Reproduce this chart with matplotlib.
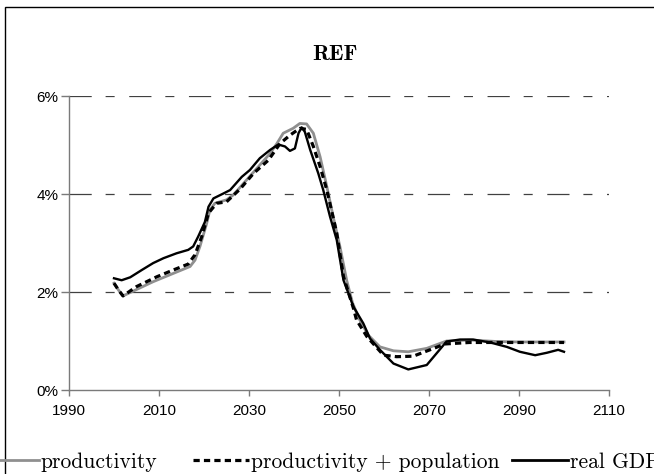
import matplotlib
matplotlib.use("Agg")
import matplotlib.pyplot as plt
from matplotlib.patches import Rectangle
from matplotlib.lines import Line2D
from matplotlib.ticker import FuncFormatter

# ── Dados (em %) ─────────────────────────────────────────────────────────────
prod_years = [2000, 2001, 2002, 2005, 2008.7, 2012.4, 2016.9, 2018, 2019.1, 2020.6,
              2021.3, 2022.4, 2025, 2026.5, 2029.5, 2032.4, 2034.7, 2036.2, 2037.6,
              2039.8, 2041.3, 2042.8, 2044.3, 2045.8, 2047.3, 2048.7, 2050.2, 2051.7,
              2053, 2054.5, 2056.5, 2059.1, 2062.1, 2065.4, 2069.5, 2073.9, 2079.1,
              2085, 2090, 2095, 2100]
prod_vals = [2.18, 2.04, 1.92, 2.05, 2.21, 2.35, 2.52, 2.65, 2.93, 3.40,
             3.67, 3.81, 3.88, 3.98, 4.29, 4.59, 4.83, 5.03, 5.24,
             5.34, 5.44, 5.43, 5.24, 4.76, 4.15, 3.54, 2.93, 2.24,
             1.78, 1.45, 1.12, 0.88, 0.80, 0.78, 0.85, 1.00, 1.02,
             0.99, 0.98, 0.98, 0.98]

pop_years = [2000, 2001, 2002, 2005, 2009.5, 2013.2, 2016.5, 2018, 2019.5, 2021,
             2022.8, 2025, 2028, 2031, 2034.3, 2036.9, 2039.1, 2041.3, 2042.8,
             2044.3, 2045.8, 2047.3, 2049.5, 2051, 2053.2, 2053.9, 2056.2, 2059.9,
             2062.8, 2066.5, 2070.2, 2073.6, 2079, 2085, 2090, 2095, 2100]
pop_vals = [2.18, 2.04, 1.92, 2.11, 2.31, 2.45, 2.57, 2.76, 3.13, 3.61,
            3.81, 3.84, 4.10, 4.42, 4.69, 5.03, 5.20, 5.34, 5.32,
            4.97, 4.56, 4.08, 3.20, 2.31, 1.67, 1.43, 1.09, 0.71,
            0.68, 0.69, 0.82, 0.94, 0.97, 0.97, 0.97, 0.97, 0.97]

gdp_years = [2000, 2001.7, 2003.6, 2006.2, 2008.7, 2011, 2013.9, 2016.5, 2017.6,
             2018.7, 2020.2, 2021, 2022.1, 2024.3, 2025.8, 2028.4, 2030.2, 2032.4,
             2034.7, 2036.5, 2038, 2039.1, 2040.2, 2041, 2041.7, 2042.4, 2043.6,
             2045.4, 2046.5, 2048, 2049.5, 2051, 2052.1, 2053.2, 2055.4, 2056.9,
             2059.1, 2062.1, 2065.4, 2069.5, 2071.7, 2073.9, 2076.9, 2079.8,
             2083.6, 2087.3, 2090.2, 2093.6, 2096.2, 2098.7, 2100]
gdp_vals = [2.28, 2.24, 2.30, 2.45, 2.59, 2.69, 2.79, 2.86, 2.93,
            3.13, 3.43, 3.74, 3.91, 4.01, 4.08, 4.35, 4.49, 4.73,
            4.90, 5.01, 4.97, 4.88, 4.93, 5.24, 5.36, 5.27, 4.90,
            4.42, 4.08, 3.54, 3.06, 2.24, 1.97, 1.70, 1.36, 1.05,
            0.82, 0.54, 0.42, 0.51, 0.75, 0.99, 1.03, 1.03,
            0.97, 0.88, 0.78, 0.71, 0.76, 0.82, 0.78]

x_ticks = [1990, 2010, 2030, 2050, 2070, 2090, 2110]
y_ticks = [0, 2, 4, 6]
labels = ["productivity", "productivity + population", "real GDP"]

GRAY = "#8f8f8f"
AXIS = "#7a7a7a"
DASH = (0, (4.5, 3))

plt.rcParams["font.family"] = ["Liberation Sans", "DejaVu Sans"]
plt.rcParams["lines.scale_dashes"] = False

fig = plt.figure(figsize=(6.54, 4.74), dpi=100)
ax = fig.add_axes([69 / 654, 1 - 390 / 474, 540 / 654, 294 / 474])

ax.plot(prod_years, prod_vals, color=GRAY, lw=2.0)
ax.plot(pop_years, pop_vals, color="black", lw=2.3, ls=DASH)
ax.plot(gdp_years, gdp_vals, color="black", lw=1.7)

ax.set_xlim(1990, 2110)
ax.set_ylim(0, 6)
ax.set_xticks(x_ticks)
ax.set_yticks(y_ticks)
ax.yaxis.set_major_formatter(FuncFormatter(lambda v, p: f"{v:.0f}%"))

for v in y_ticks[1:]:
    ax.axhline(v, color="#404040", lw=0.9, ls=(0, (16, 10, 6.5, 10.5)), zorder=0)

for s in ("top", "right"):
    ax.spines[s].set_visible(False)
for s in ("left", "bottom"):
    ax.spines[s].set_color(AXIS)
    ax.spines[s].set_linewidth(1.0)
ax.tick_params(axis="both", direction="out", color=AXIS, width=1.0, labelsize=11)
ax.tick_params(axis="y", length=5.5, pad=2)
ax.tick_params(axis="x", length=4, pad=6)

fig.text(335 / 654, 1 - 55 / 474, "REF", ha="center", va="center",
         family="cmb10", fontsize=16)

# legenda: uma entrada por bloco, ancorada no início de cada traço
handles = [Line2D([], [], color=GRAY, lw=2.0),
           Line2D([], [], color="black", lw=2.3, ls=DASH),
           Line2D([], [], color="black", lw=2.0)]
starts = [-17, 193, 512]
for h, lab, x0 in zip(handles, labels, starts):
    fig.legend([h], [lab], loc="center left", bbox_to_anchor=(x0 / 654, 1 - 462 / 474),
               frameon=False, prop={"family": "cmr10", "size": 15.5}, borderpad=0,
               borderaxespad=0, handlelength=2.6, handletextpad=0.09)

fig.patches.append(Rectangle((5 / 654, -0.2), 1.2, 1.2 + (474 - 7) / 474 - 1.0,
                             transform=fig.transFigure, fill=False,
                             edgecolor="black", lw=1.0, clip_on=False))

fig.savefig("out.png", dpi=100)
